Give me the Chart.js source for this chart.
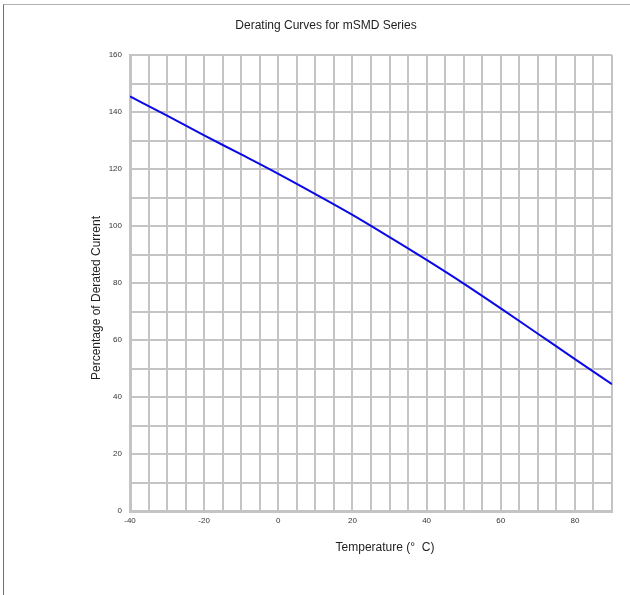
<!DOCTYPE html>
<html>
<head>
<meta charset="utf-8">
<script src="https://cdn.jsdelivr.net/npm/chart.js@4.4.0/dist/chart.umd.min.js"></script>
<style>
  html, body { margin: 0; padding: 0; background: #fff; }
  #wrap { position: relative; width: 630px; height: 595px; }
  #frame { position: absolute; left: 3px; top: 4px; width: 640px; height: 600px;
           border-top: 1px solid #b0b0b0; border-left: 1px solid #6e6e6e; }
  canvas { position: absolute; left: 0; top: 0; }
</style>
</head>
<body>
<div id="wrap">
  <div id="frame"></div>
  <canvas id="chart" width="630" height="595"></canvas>
</div>
<script>
// temperature (deg C) and percentage of rated current
var temperatures = [-40, -30, -20, -10, 0, 10, 20, 30, 40, 50, 60, 70, 80, 90];
var derating = [145.5, 138.7, 131.8, 125.1, 118.3, 111.2, 103.9, 96.1, 88.1, 79.8, 71.1, 62.2, 53.3, 44.5];

var chartTitle = 'Derating Curves for mSMD Series';
var xTitle = 'Temperature (\u00b0  C)';
var yTitle = 'Percentage of Derated Current';

var gridColor = '#c4c4c4';

// titles placed where they sit in the original picture
var titlesPlugin = {
  id: 'titles',
  afterDraw: function(chart) {
    var ctx = chart.ctx;
    ctx.save();
    ctx.fillStyle = '#1e1e1e';
    ctx.font = '12px "Liberation Sans", Arial, sans-serif';
    ctx.textAlign = 'center';
    ctx.textBaseline = 'middle';
    ctx.fillText(chartTitle, 326, 26);
    ctx.fillText(xTitle, 385, 548);
    ctx.translate(97, 298);
    ctx.rotate(-Math.PI / 2);
    ctx.fillText(yTitle, 0, 0);
    ctx.restore();
  }
};

var ctx = document.getElementById('chart').getContext('2d');
var chart = new Chart(ctx, {
  type: 'line',
  data: {
    datasets: [{
      data: temperatures.map(function(t, i) { return { x: t, y: derating[i] }; }),
      borderColor: '#0a0ae6',
      borderWidth: 2,
      pointRadius: 0,
      cubicInterpolationMode: 'monotone',
      fill: false
    }]
  },
  options: {
    responsive: false,
    animation: false,
    layout: { padding: { left: 0, top: 55, right: 18, bottom: 54 } },
    plugins: {
      legend: { display: false },
      title: { display: false },
      tooltip: { enabled: false }
    },
    scales: {
      x: {
        type: 'linear',
        min: -40,
        max: 90,
        afterFit: function(scale) { scale.height = 30; },
        ticks: {
          stepSize: 5,
          autoSkip: false,
          maxRotation: 0,
          padding: 5,
          color: '#333',
          font: { family: '"Liberation Sans", Arial, sans-serif', size: 8 },
          callback: function(v) { return v % 20 === 0 && v !== 90 ? v : ''; }
        },
        grid: { color: gridColor, lineWidth: 2, drawTicks: false },
        border: { color: gridColor, width: 3 }
      },
      y: {
        min: 0,
        max: 160,
        afterFit: function(scale) { scale.width = 130; },
        ticks: {
          stepSize: 10,
          autoSkip: false,
          padding: 8,
          color: '#333',
          font: { family: '"Liberation Sans", Arial, sans-serif', size: 8 },
          callback: function(v) { return v % 20 === 0 ? v : ''; }
        },
        grid: { color: gridColor, lineWidth: 2, drawTicks: false },
        border: { color: gridColor, width: 3 }
      }
    }
  },
  plugins: [titlesPlugin]
});
</script>
</body>
</html>
